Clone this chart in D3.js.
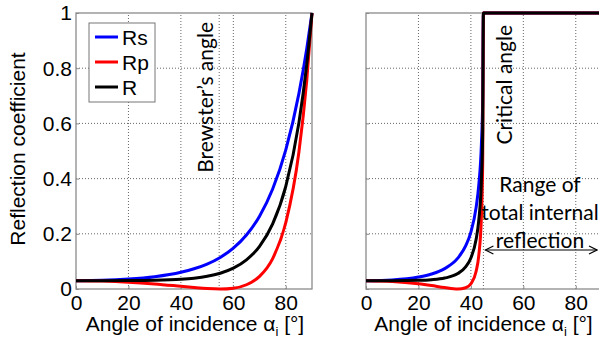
<html>
<head>
<script src="https://d3js.org/d3.v7.min.js"></script>
<style>
  body { margin: 0; background: #fff; }
  .tick text { font-family: "Liberation Sans", Arial, sans-serif; font-size: 21px; fill: #000; }
  .lbl { font-family: "Liberation Sans", Arial, sans-serif; font-size: 21px; }
  .note { font-family: Lato, "Open Sans", sans-serif; font-size: 21px; }
</style>
</head>
<body>
<div id="chart"></div>
<script>
// external reflection (air -> glass)
const angL = [0, 10, 20, 30, 40, 45, 50, 55, 60, 65, 70, 75, 80, 85, 88, 90];
const rsL = [0.0301, 0.0314, 0.0358, 0.0445, 0.0606, 0.0732, 0.0904, 0.1144, 0.1480, 0.1957, 0.2639, 0.3621, 0.5038, 0.7080, 0.8707, 1];
const rpL = [0.0301, 0.0288, 0.0249, 0.0184, 0.0098, 0.0054, 0.0016, 0.0000, 0.0030, 0.0154, 0.0457, 0.1103, 0.2401, 0.4957, 0.7562, 1];
const rL  = [0.0301, 0.0301, 0.0304, 0.0315, 0.0352, 0.0393, 0.0460, 0.0572, 0.0755, 0.1056, 0.1548, 0.2362, 0.3720, 0.6019, 0.8135, 1];

// internal reflection (glass -> air)
const angR = [0, 10, 20, 25, 30, 35, 38, 40, 42, 43, 44, 44.5, 44.77, 50, 60, 70, 80, 90];
const rsR = [0.0301, 0.0329, 0.0434, 0.0545, 0.0739, 0.1118, 0.1559, 0.2061, 0.2958, 0.3757, 0.5227, 0.6811, 1, 1, 1, 1, 1, 1];
const rpR = [0.0301, 0.0275, 0.0191, 0.0126, 0.0052, 0.0000, 0.0045, 0.0191, 0.0642, 0.1209, 0.2604, 0.4575, 1, 1, 1, 1, 1, 1];
const rR  = [0.0301, 0.0302, 0.0313, 0.0336, 0.0396, 0.0559, 0.0802, 0.1126, 0.1800, 0.2483, 0.3916, 0.5693, 1, 1, 1, 1, 1, 1];

const xTicks = [0, 20, 40, 60, 80];
const yTicks = [0, 0.2, 0.4, 0.6, 0.8, 1];
const gridX = [20, 40, 60, 80];
const brewster = 54.6;
const critical = 44.77;

const seriesNames = ["Rs", "Rp", "R"];
const colors = ["#0000ff", "#ff0000", "#000000"];

const svg = d3.select("#chart").append("svg")
  .attr("width", 599).attr("height", 342);

const y = d3.scaleLinear().domain([0, 1]).range([289, 13]);
const xL = d3.scaleLinear().domain([0, 90]).range([76, 312]);
const xR = d3.scaleLinear().domain([0, 90]).range([366, 602]);

svg.append("defs").append("marker")
  .attr("id", "arr")
  .attr("viewBox", "-10 -5 11 10")
  .attr("refX", 0).attr("refY", 0)
  .attr("markerWidth", 11).attr("markerHeight", 10)
  .attr("markerUnits", "userSpaceOnUse")
  .attr("orient", "auto-start-reverse")
  .append("path")
  .attr("d", "M-8,-4L0,0L-8,4")
  .attr("fill", "none").attr("stroke", "#000").attr("stroke-width", 1.2);

function panel(x, extraGrid, ang, series, showY) {
  const g = svg.append("g");
  const [x0, x1] = x.range();

  g.append("rect")
    .attr("x", x0).attr("y", 13)
    .attr("width", x1 - x0).attr("height", 276)
    .attr("fill", "#fff");

  // grid
  g.selectAll(".gx").data(gridX.concat(extraGrid)).join("line")
    .attr("x1", d => x(d)).attr("x2", d => x(d))
    .attr("y1", y(0)).attr("y2", y(1))
    .attr("stroke", "#666").attr("stroke-width", 1)
    .attr("stroke-dasharray", "1,2");
  g.selectAll(".gy").data(yTicks.slice(1, -1)).join("line")
    .attr("x1", x0).attr("x2", x1)
    .attr("y1", d => y(d)).attr("y2", d => y(d))
    .attr("stroke", "#666").attr("stroke-width", 1)
    .attr("stroke-dasharray", "1,2");

  g.append("rect")
    .attr("x", x0).attr("y", 13)
    .attr("width", x1 - x0).attr("height", 276)
    .attr("fill", "none").attr("stroke", "#8a8a8a").attr("stroke-width", 1.3);

  const xa = g.append("g")
    .attr("transform", `translate(0,${y(0)})`)
    .call(d3.axisBottom(x).tickValues(xTicks).tickSize(-3));
  xa.select(".domain").remove();
  xa.selectAll("line").attr("stroke", "#8a8a8a");
  xa.selectAll("text").attr("y", 21).attr("dy", 0);

  const ya = g.append("g")
    .attr("transform", `translate(${x0},0)`)
    .call(d3.axisLeft(y).tickValues(yTicks).tickSize(-3).tickFormat(d => String(d)));
  ya.select(".domain").remove();
  ya.selectAll("line").attr("stroke", "#8a8a8a");
  if (showY) {
    ya.selectAll("text").attr("x", -4).attr("dy", "0.33em");
  } else {
    ya.selectAll("text").remove();
  }

  const line = d3.line()
    .x((d, i) => x(ang[i]))
    .y(d => y(d))
    .curve(d3.curveMonotoneX);

  series.forEach((s, k) => {
    g.append("path")
      .datum(s)
      .attr("d", line)
      .attr("fill", "none")
      .attr("stroke", colors[k])
      .attr("stroke-width", 3)
      .attr("stroke-linejoin", "round");
  });

  const lab = g.append("text")
    .attr("class", "lbl")
    .attr("x", (x0 + Math.min(x1, 599)) / 2 + 1)
    .attr("y", 331)
    .attr("text-anchor", "middle");
  lab.append("tspan").text("Angle of incidence \u03b1");
  lab.append("tspan").attr("font-size", 13).attr("dy", 5).text("i");
  lab.append("tspan").attr("dy", -5).text(" [\u00b0]");
  return g;
}

panel(xL, [brewster], angL, [rsL, rpL, rL], true);
panel(xR, [critical], angR, [rsR, rpR, rR], false);

// y label
svg.append("text")
  .attr("class", "lbl")
  .attr("transform", "translate(25,149) rotate(-90)")
  .attr("text-anchor", "middle")
  .text("Reflection coefficient");

// legend
const leg = svg.append("g");
leg.append("rect")
  .attr("x", 89).attr("y", 23).attr("width", 66).attr("height", 79)
  .attr("fill", "#fff").attr("stroke", "#777").attr("stroke-width", 1);
seriesNames.forEach((n, i) => {
  leg.append("line")
    .attr("x1", 95).attr("x2", 118)
    .attr("y1", 37 + i * 25).attr("y2", 37 + i * 25)
    .attr("stroke", colors[i]).attr("stroke-width", 3);
  leg.append("text")
    .attr("class", "lbl")
    .attr("font-size", 22)
    .attr("x", 122).attr("y", 45 + i * 25)
    .text(n);
});

// annotations
svg.append("text")
  .attr("class", "note")
  .attr("font-size", 22.5)
  .attr("transform", `translate(${xL(brewster) - 6},22) rotate(-90)`)
  .attr("text-anchor", "end")
  .text("Brewster\u2019s angle");

svg.append("text")
  .attr("class", "note")
  .attr("transform", `translate(${xR(critical) + 29},25) rotate(-90)`)
  .attr("text-anchor", "end")
  .text("Critical angle");

const tir = ["Range of", "total internal", "reflection"];
tir.forEach((t, i) => {
  svg.append("text")
    .attr("class", "note")
    .attr("font-size", t === "total internal" ? 19.5 : 21)
    .attr("x", 540).attr("y", 192 + i * 28)
    .attr("text-anchor", "middle")
    .text(t);
});

svg.append("line")
  .attr("x1", xR(critical) + 2).attr("x2", 597)
  .attr("y1", 250).attr("y2", 250)
  .attr("stroke", "#000").attr("stroke-width", 1.2)
  .attr("marker-start", "url(#arr)")
  .attr("marker-end", "url(#arr)");
</script>
</body>
</html>
